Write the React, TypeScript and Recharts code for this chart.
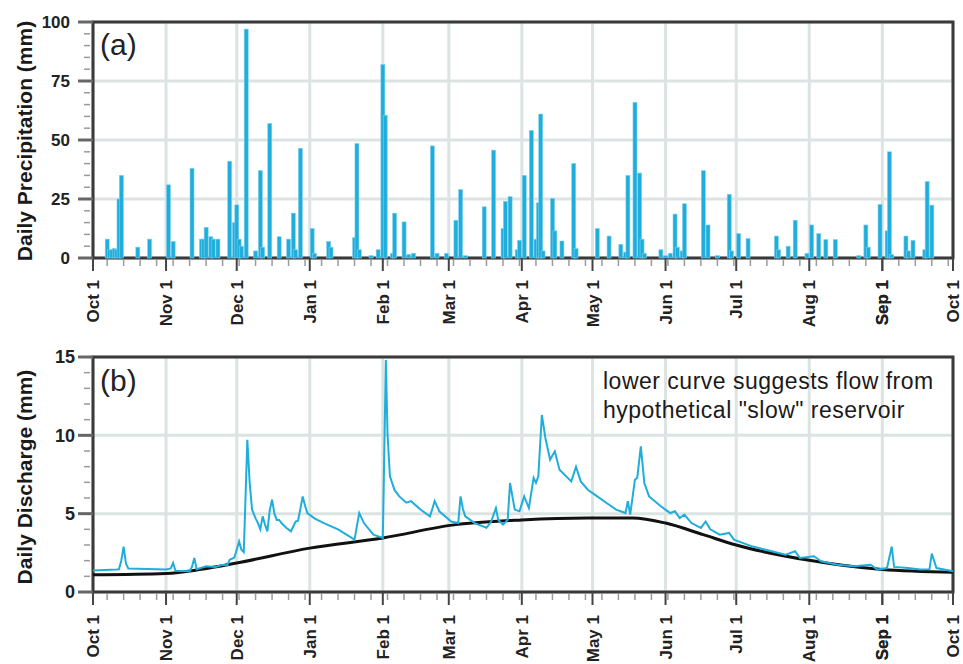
import React from "react";
import {
  ComposedChart,
  LineChart,
  Bar,
  Line,
  XAxis,
  YAxis,
  CartesianGrid,
  ReferenceArea,
} from "recharts";

// ---------- axis definitions ----------
const monthDays = [0, 31, 61, 92, 123, 151, 182, 212, 243, 273, 304, 335, 365];
const monthLabels = ["Oct 1", "Nov 1", "Dec 1", "Jan 1", "Feb 1", "Mar 1", "Apr 1", "May 1", "Jun 1", "Jul 1", "Aug 1", "Sep 1", "Oct 1"];
const weekDays = [6, 13, 20, 27, 34, 41, 48, 55, 62, 69, 76, 83, 90, 97, 104, 111, 118, 125, 132, 139, 146, 153, 160, 167, 174, 181, 188, 195, 202, 209, 216, 223, 230, 237, 244, 251, 258, 265, 272, 279, 286, 293, 300, 307, 314, 321, 328, 335, 342, 349, 356, 363];
const precipMajorTicks = [0, 25, 50, 75, 100];
const precipMinorTicks = [5, 10, 15, 20, 30, 35, 40, 45, 55, 60, 65, 70, 80, 85, 90, 95];
const flowMajorTicks = [0, 5, 10, 15];
const flowMinorTicks = [1, 2, 3, 4, 6, 7, 8, 9, 11, 12, 13, 14];

// ---------- (a) daily precipitation (day of water year, mm) ----------
const precipDays = [6, 7, 8, 9, 10, 11, 12, 19, 24, 32, 34, 42, 46, 47, 48, 50, 51, 53, 58, 60, 61, 62, 63, 65, 69, 71, 72, 75, 79, 83, 85, 86, 88, 93, 94, 100, 101, 111, 112, 113, 118, 121, 123, 124, 127, 128, 132, 134, 136, 144, 146, 150, 154, 156, 158, 166, 170, 174, 175, 177, 180, 181, 183, 186, 188, 189, 190, 191, 195, 196, 199, 204, 205, 214, 219, 224, 226, 227, 230, 232, 233, 234, 241, 243, 245, 247, 248, 250, 251, 259, 261, 265, 270, 271, 274, 278, 290, 291, 295, 298, 303, 305, 308, 311, 315, 325, 328, 329, 334, 337, 338, 339, 345, 346, 348, 353, 354, 356];
const precipMm = [8, 3.5, 3.5, 4, 3.5, 25, 35, 4.6, 8, 31, 7, 38, 8, 8, 13, 9, 8, 8, 41, 15, 22.5, 8, 5, 97, 3, 37, 4.6, 57, 9, 8, 19, 3.5, 46.5, 12.5, 2, 7, 4.6, 8.6, 48.5, 3.5, 1, 3.5, 82, 60.5, 2, 19, 15.3, 1.5, 2, 47.5, 2, 2, 16, 29, 1, 21.7, 45.7, 12.5, 24, 26, 3.5, 7.5, 35, 54, 8, 23.4, 61, 3, 25.3, 11.5, 7.2, 40, 4, 12.5, 9.3, 5.8, 2.5, 35, 66, 36, 8, 2, 3.5, 1, 2, 18.6, 4.6, 3, 23, 37, 14, 1, 27, 3, 10.3, 8.2, 9.3, 3.5, 5, 16, 2, 14, 10.3, 7.8, 7.8, 1, 14, 4.6, 22.7, 11.5, 45, 1.5, 9.3, 3, 7.5, 3.5, 32.4, 22.4];

// ---------- (b) daily discharge (mm) ----------
const flowDays = [0, 10, 11, 12, 13, 14, 15, 31, 33, 34, 35, 41, 42, 43, 44, 48, 52, 55, 57, 58, 60, 61, 62, 63, 64, 65.5, 66.5, 67.5, 69, 70, 71, 72, 73, 74, 75, 76, 77, 78, 79, 80, 82, 84, 86, 87, 88, 89, 90, 91, 94, 98, 104, 111, 112, 113, 115, 119, 123, 124.3, 125, 126, 128, 130, 133, 135, 139, 143, 144, 145, 147, 152, 155, 156, 157, 158, 162, 167, 169, 171, 172, 174, 176, 177, 179, 181, 183, 185, 187, 188, 189, 190.5, 192, 194, 196, 198, 203, 205, 207, 210, 214, 218, 222, 226, 227, 228, 230, 231, 232.5, 234, 236, 241, 245, 247, 249, 251, 254, 258, 260, 262, 266, 270, 272, 280, 288, 294, 298, 300, 306, 309, 316, 323, 330, 333, 337, 339, 340, 346, 351, 355, 356, 358, 365];
const flowMm = [1.38, 1.43, 1.45, 2.0, 2.9, 1.8, 1.5, 1.43, 1.5, 1.85, 1.35, 1.32, 1.6, 2.17, 1.45, 1.64, 1.6, 1.74, 1.7, 2.06, 2.2, 2.7, 3.23, 2.7, 2.55, 9.72, 6.96, 5.26, 4.7, 4.4, 4.0, 4.83, 4.3, 3.87, 5.2, 5.9, 5.0, 4.6, 4.6, 4.4, 4.1, 3.87, 4.5, 4.55, 5.3, 6.1, 5.5, 5.04, 4.7, 4.4, 4.0, 3.34, 4.2, 5.04, 4.4, 3.66, 3.45, 14.8, 10.1, 7.4, 6.5, 6.1, 5.7, 5.8, 5.26, 4.83, 5.3, 5.8, 5.15, 4.5, 4.4, 6.1, 5.3, 4.83, 4.4, 4.1, 4.5, 5.36, 4.6, 4.3, 4.6, 6.96, 5.26, 5.15, 6.1, 5.36, 7.28, 6.96, 7.38, 11.3, 9.83, 8.45, 8.98, 7.8, 7.06, 8.0, 7.06, 6.53, 6.1, 5.68, 5.26, 5.04, 5.8, 4.94, 7.17, 7.3, 9.3, 6.96, 6.1, 5.47, 5.04, 5.15, 4.72, 4.94, 4.4, 4.09, 4.5, 4.0, 3.66, 3.77, 3.34, 2.9, 2.6, 2.38, 2.6, 2.17, 2.28, 1.96, 1.74, 1.64, 1.74, 1.43, 1.53, 2.9, 1.6, 1.53, 1.43, 1.45, 2.45, 1.53, 1.32];
const slowDays = [0, 31, 46, 61, 92, 123, 154, 182, 210, 229, 243, 259, 273, 304, 335, 365];
const slowMm = [1.1, 1.18, 1.45, 1.85, 2.8, 3.45, 4.3, 4.6, 4.72, 4.72, 4.4, 3.66, 3.0, 2.02, 1.43, 1.26];

const precipData = precipDays.map((d, i) => ({ day: d, p: precipMm[i] }));
const flowData = flowDays.map((d, i) => ({ day: d, q: flowMm[i] }));
const slowData = slowDays.map((d, i) => ({ day: d, q: slowMm[i] }));

const FONT = "'Liberation Sans', Arial, Helvetica, sans-serif";
const BLUE = "#1faedb";
const GRID = "#dce3e3";
const FRAME = "#3a3a3a";

const xTicks = [...monthDays, ...weekDays].sort((a, b) => a - b);

const makeXTick = (labelGap: number) => (props: any) => {
  const { x, y, payload } = props;
  const idx = monthDays.indexOf(payload.value);
  if (idx >= 0) {
    return (
      <g>
        <line x1={x} x2={x} y1={y} y2={y + 13} stroke="#444" strokeWidth={2} />
        <text
          transform={`translate(${x + 6},${y + labelGap}) rotate(-90)`}
          textAnchor="end"
          fontSize={17}
          fontWeight="bold"
          fontFamily={FONT}
          fill="#222"
        >
          {monthLabels[idx]}
        </text>
      </g>
    );
  }
  return <line x1={x} x2={x} y1={y + 2} y2={y + 8} stroke="#9a9a9a" strokeWidth={1.5} />;
};

const makeYTick = (majors: number[], labelGap: number, fontSize: number) => (props: any) => {
  const { x, y, payload } = props;
  if (majors.includes(payload.value)) {
    return (
      <g>
        <line x1={x - 15} x2={x} y1={y} y2={y} stroke="#666" strokeWidth={3} />
        <text x={x - labelGap} y={y} dy="0.36em" textAnchor="end" fontSize={fontSize} fontWeight="bold" fontFamily={FONT} fill="#222">
          {payload.value}
        </text>
      </g>
    );
  }
  return <line x1={x - 9} x2={x - 3} y1={y} y2={y} stroke="#9a9a9a" strokeWidth={1.5} />;
};

const PrecipBar = (props: any) => {
  const { x, y, width, height } = props;
  if (!height || height <= 0) return null;
  const cx = x + width / 2;
  return <rect x={cx - 2} y={y} width={4} height={height} fill={BLUE} stroke="#7fd0ec" strokeWidth={0.6} />;
};

export default function App() {
  return (
    <div style={{ position: "absolute", left: 0, top: 0, width: 963, height: 664, background: "#fff" }}>
      <div style={{ position: "absolute", left: 0, top: 0 }}>
        <ComposedChart width={963} height={330} data={precipData} margin={{ top: 22, right: 10, bottom: 0, left: 0 }}>
          <CartesianGrid stroke={GRID} strokeWidth={3} horizontalValues={precipMajorTicks} verticalValues={monthDays} />
          <XAxis
            type="number"
            dataKey="day"
            domain={[0, 365]}
            ticks={xTicks}
            interval={0}
            height={72}
            axisLine={false}
            tickLine={false}
            tickSize={0}
            tickMargin={0}
            tick={makeXTick(22)}
          />
          <YAxis
            type="number"
            domain={[0, 100]}
            ticks={[...precipMajorTicks, ...precipMinorTicks].sort((a, b) => a - b)}
            interval={0}
            width={93}
            axisLine={false}
            tickLine={false}
            tickSize={0}
            tickMargin={0}
            tick={makeYTick(precipMajorTicks, 23, 17)}
          />
          <Bar dataKey="p" fill={BLUE} shape={PrecipBar} isAnimationActive={false} />
          <ReferenceArea x1={0} x2={365} y1={0} y2={100} fill="none" stroke={FRAME} strokeWidth={3} ifOverflow="visible" />
        </ComposedChart>
      </div>
      <div style={{ position: "absolute", left: 0, top: 330 }}>
        <LineChart width={963} height={334} margin={{ top: 27, right: 10, bottom: 0, left: 0 }}>
          <CartesianGrid stroke={GRID} strokeWidth={3} horizontalValues={flowMajorTicks} verticalValues={monthDays} />
          <XAxis
            type="number"
            dataKey="day"
            domain={[0, 365]}
            ticks={xTicks}
            interval={0}
            height={72}
            axisLine={false}
            tickLine={false}
            tickSize={0}
            tickMargin={0}
            tick={makeXTick(23)}
          />
          <YAxis
            type="number"
            domain={[0, 15]}
            ticks={[...flowMajorTicks, ...flowMinorTicks].sort((a, b) => a - b)}
            interval={0}
            width={93}
            axisLine={false}
            tickLine={false}
            tickSize={0}
            tickMargin={0}
            tick={makeYTick(flowMajorTicks, 18, 18)}
          />
          <Line data={slowData} dataKey="q" type="monotone" stroke="#111" strokeWidth={3} dot={false} isAnimationActive={false} />
          <Line data={flowData} dataKey="q" type="linear" stroke={BLUE} strokeWidth={2} dot={false} isAnimationActive={false} />
          <ReferenceArea x1={0} x2={365} y1={0} y2={15} fill="none" stroke={FRAME} strokeWidth={3} ifOverflow="visible" />
        </LineChart>
      </div>
      <svg width={963} height={664} style={{ position: "absolute", left: 0, top: 0, pointerEvents: "none" }}>
        <text transform="translate(32,141) rotate(-90)" textAnchor="middle" fontSize={21} fontWeight="bold" fontFamily={FONT} fill="#1a1a1a">
          Daily Precipitation (mm)
        </text>
        <text transform="translate(32,477) rotate(-90)" textAnchor="middle" fontSize={21} fontWeight="bold" fontFamily={FONT} fill="#1a1a1a">
          Daily Discharge (mm)
        </text>
        <text x={100} y={55} fontSize={30} fontFamily={FONT} fill="#222">(a)</text>
        <text x={100} y={391} fontSize={30} fontFamily={FONT} fill="#222">(b)</text>
        <text x={603} y={389} fontSize={23} fontFamily={FONT} fill="#1a1a1a" letterSpacing={0.5}>
          lower curve suggests flow from
        </text>
        <text x={603} y={418} fontSize={23} fontFamily={FONT} fill="#1a1a1a" letterSpacing={0.5}>
          hypothetical "slow" reservoir
        </text>
      </svg>
    </div>
  );
}
